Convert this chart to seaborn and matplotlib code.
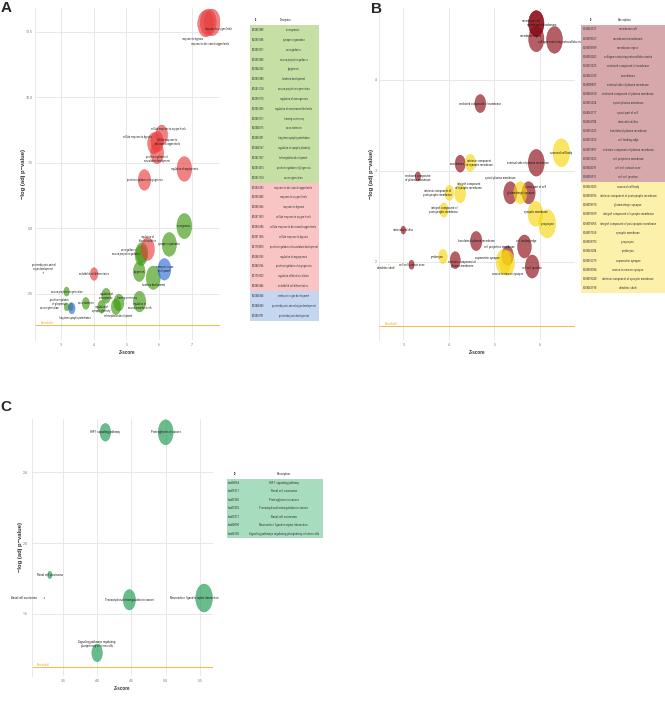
import os
import matplotlib
matplotlib.use("Agg")
import matplotlib.pyplot as plt
from matplotlib import font_manager
from matplotlib.font_manager import FontProperties
from matplotlib.path import Path
from matplotlib.transforms import Affine2D
import pandas as pd
import seaborn as sns

# ---------------- panel A : GO biological process ----------------
a_ids = ["GO:0007409", "GO:0050808", "GO:0007411", "GO:0097485", "GO:0042063", "GO:0030900",
         "GO:0031102", "GO:0050770", "GO:0001505", "GO:0007611", "GO:0048675", "GO:0060291",
         "GO:0048167", "GO:0021537", "GO:0014015", "GO:0031103", "GO:0036293", "GO:0070482",
         "GO:0001666", "GO:0071453", "GO:0036294", "GO:0071456", "GO:1904018", "GO:0045765",
         "GO:0045766", "GO:1903522", "GO:0045446", "GO:0048568", "GO:0048569", "GO:0009791"]
a_terms = ["axonogenesis", "synapse organization", "axon guidance", "neuron projection guidance",
           "gliogenesis", "forebrain development", "neuron projection regeneration",
           "regulation of axonogenesis", "regulation of neurotransmitter levels", "learning or memory",
           "axon extension", "long-term synaptic potentiation", "regulation of synaptic plasticity",
           "telencephalon development", "positive regulation of gliogenesis", "axon regeneration",
           "response to decreased oxygen levels", "response to oxygen levels", "response to hypoxia",
           "cellular response to oxygen levels", "cellular response to decreased oxygen levels",
           "cellular response to hypoxia", "positive regulation of vasculature development",
           "regulation of angiogenesis", "positive regulation of angiogenesis",
           "regulation of blood circulation", "endothelial cell differentiation",
           "embryonic organ development", "post-embryonic animal organ development",
           "post-embryonic development"]
a_groups = ["neuro"] * 16 + ["hypoxia"] * 11 + ["organ"] * 3
a_zscore = [6.77, 6.31, 5.47, 5.45, 5.39, 5.82, 3.17, 4.38, 5.40, 4.77, 3.76, 3.30, 4.24, 4.68, 3.17,
            2.87, 7.50, 7.62, 7.42, 6.08, 5.94, 5.84, 5.94, 6.77, 5.55, 5.65, 4.01, 6.16, 2.46, 3.33]
a_logp = [5.08, 4.38, 4.06, 3.96, 3.34, 3.11, 2.58, 2.42, 2.20, 2.16, 2.13, 2.00, 2.00, 2.00, 2.00,
          1.95, 12.85, 12.85, 12.80, 8.56, 8.30, 8.24, 7.87, 7.26, 6.84, 4.20, 3.25, 3.43, 3.30, 1.94]
a_count = [32, 29, 21, 21, 20, 28, 5, 12, 22, 15, 8, 4, 9, 13, 4, 1, 36, 36, 35, 20, 22, 23, 24, 31,
           22, 26, 9, 24, 1, 7]
a_xticks = [3, 4, 5, 6, 7]
a_xticklabels = ["3", "4", "5", "6", "7"]
a_yticks = [2.5, 5.0, 7.5, 10.0, 12.5]
a_yticklabels = ["2.5", "5.0", "7.5", "10.0", "12.5"]

# ---------------- panel B : GO cellular component ----------------
b_ids = ["GO:0045121", "GO:0098857", "GO:0098589", "GO:0062023", "GO:0031225", "GO:0042383",
         "GO:0009897", "GO:0046658", "GO:0016324", "GO:0045177", "GO:0014704", "GO:0016323",
         "GO:0031252", "GO:0019897", "GO:0031253", "GO:0044291", "GO:0005911", "GO:0043025",
         "GO:0098936", "GO:0098978", "GO:0099699", "GO:0099055", "GO:0097060", "GO:0098793",
         "GO:0043204", "GO:0032279", "GO:0098984", "GO:0099240", "GO:0043198"]
b_terms = ["membrane raft", "membrane microdomain", "membrane region",
           "collagen-containing extracellular matrix", "anchored component of membrane", "sarcolemma",
           "external side of plasma membrane", "anchored component of plasma membrane",
           "apical plasma membrane", "apical part of cell", "intercalated disc",
           "basolateral plasma membrane", "cell leading edge", "extrinsic component of plasma membrane",
           "cell projection membrane", "cell-cell contact zone", "cell-cell junction",
           "neuronal cell body", "intrinsic component of postsynaptic membrane", "glutamatergic synapse",
           "integral component of synaptic membrane", "integral component of postsynaptic membrane",
           "synaptic membrane", "presynapse", "perikaryon", "asymmetric synapse",
           "neuron to neuron synapse", "intrinsic component of synaptic membrane", "dendritic shaft"]
b_groups = ["membrane"] * 17 + ["synapse"] * 12
b_zscore = [5.92, 5.92, 5.92, 6.32, 4.69, 4.25, 5.92, 3.32, 5.35, 5.75, 3.00, 4.60, 5.66, 4.14, 5.29,
            3.18, 5.83, 6.47, 4.01, 5.57, 4.25, 3.89, 5.90, 6.16, 3.87, 5.20, 5.28, 4.47, 2.68]
b_logp = [4.62, 4.62, 4.45, 4.44, 3.74, 3.08, 3.09, 2.94, 2.76, 2.76, 2.35, 2.23, 2.17, 2.02, 2.07,
          1.97, 1.95, 3.20, 2.76, 2.76, 2.75, 2.57, 2.53, 2.42, 2.06, 2.00, 1.99, 3.09, 1.97]
b_count = [33, 33, 33, 36, 17, 15, 36, 5, 25, 25, 4, 19, 27, 15, 19, 5, 27, 39, 12, 25, 17, 11, 31,
           40, 11, 31, 31, 15, 1]
b_xticks = [3, 4, 5, 6]
b_xticklabels = ["3", "4", "5", "6"]
b_yticks = [2, 3, 4]
b_yticklabels = ["2", "3", "4"]

# ---------------- panel C : KEGG ----------------
c_ids = ["hsa04066", "hsa05211", "hsa05205", "hsa05202", "hsa05217", "hsa04080", "hsa04550"]
c_terms = ["HIF-1 signaling pathway", "Renal cell carcinoma", "Proteoglycans in cancer",
           "Transcriptional misregulation in cancer", "Basal cell carcinoma",
           "Neuroactive ligand-receptor interaction",
           "Signaling pathways regulating pluripotency of stem cells"]
c_groups = ["kegg"] * 7
c_zscore = [4.12, 3.31, 5.00, 4.47, 3.23, 5.56, 4.00]
c_logp = [2.625, 1.82, 2.625, 1.68, 1.69, 1.69, 1.38]
c_count = [7, 2, 13, 9, 1, 16, 7]
c_xticks = [3.5, 4.0, 4.5, 5.0, 5.5]
c_xticklabels = ["3.5", "4.0", "4.5", "5.0", "5.5"]
c_yticks = [1.6, 2.0, 2.4]
c_yticklabels = ["1.6", "2.0", "2.4"]

threshold = 1.3

# colours
a_palette = {"neuro": "#3f9a10", "hypoxia": "#e83f3f", "organ": "#306ed9"}
a_table_colors = {"neuro": "#c5dfa5", "hypoxia": "#f8c4c4", "organ": "#c4d6f0"}
b_palette = {"membrane": "#8c0a12", "synapse": "#f7d611"}
b_table_colors = {"membrane": "#d6a8ac", "synapse": "#fdf0aa"}
c_palette = {"kegg": "#1a9850"}
c_table_colors = {"kegg": "#a8dcbe"}

# label tweaks (wrapped text and offsets in pixels, +dy = down)
a_wrap = {"cellular response to decreased oxygen levels": "cellular response to\ndecreased oxygen levels",
          "positive regulation of vasculature development": "positive regulation of\nvasculature development",
          "regulation of blood circulation": "regulation of\nblood circulation",
          "embryonic organ development": "embryonic organ\ndevelopment",
          "post-embryonic animal organ development": "post-embryonic animal\norgan development",
          "positive regulation of gliogenesis": "positive regulation\nof gliogenesis",
          "regulation of synaptic plasticity": "regulation of\nsynaptic plasticity",
          "regulation of axonogenesis": "regulation of\naxonogenesis",
          "regulation of neurotransmitter levels": "regulation of\nneurotransmitter levels"}
a_offset = {"response to decreased oxygen levels": (2, 22), "response to oxygen levels": (6, 7),
            "response to hypoxia": (-13, 15), "cellular response to oxygen levels": (7, -6),
            "cellular response to hypoxia": (-17, -6),
            "cellular response to decreased oxygen levels": (10, 0),
            "positive regulation of vasculature development": (0, 6),
            "regulation of blood circulation": (0, -10), "axon guidance": (-13, -3),
            "neuron projection guidance": (-15, -1), "forebrain development": (0, 7),
            "post-embryonic animal organ development": (0, -6),
            "positive regulation of gliogenesis": (-7, -5), "axon regeneration": (-8, 0),
            "long-term synaptic potentiation": (4, 11), "regulation of synaptic plasticity": (0, 2),
            "learning or memory": (8, -5), "telencephalon development": (2, 9),
            "regulation of neurotransmitter levels": (0, 4)}
a_hidden = {"post-embryonic development"}

b_wrap = {"intrinsic component of synaptic membrane": "intrinsic component\nof synaptic membrane",
          "anchored component of plasma membrane": "anchored component\nof plasma membrane",
          "intrinsic component of postsynaptic membrane": "intrinsic component of\npostsynaptic membrane",
          "integral component of synaptic membrane": "integral component\nof synaptic membrane",
          "integral component of postsynaptic membrane": "integral component of\npostsynaptic membrane",
          "extrinsic component of plasma membrane": "extrinsic component of\nplasma membrane"}
b_offset = {"membrane raft": (-5, -2.5), "membrane microdomain": (5, 2),
            "membrane region": (-6, -2.5), "collagen-containing extracellular matrix": (8, 2.5),
            "external side of plasma membrane": (-8, 0), "sarcolemma": (-3, 0),
            "intrinsic component of synaptic membrane": (9, 0),
            "anchored component of plasma membrane": (0, 2),
            "intrinsic component of postsynaptic membrane": (-12, 0),
            "integral component of synaptic membrane": (8, -8), "apical plasma membrane": (-10, -15),
            "apical part of cell": (7, -6), "synaptic membrane": (0, -2),
            "cell leading edge": (2, -6), "cell projection membrane": (-8, -9),
            "asymmetric synapse": (-16, -4), "neuron to neuron synapse": (0, 11),
            "cell-cell junction": (0, 1), "extrinsic component of plasma membrane": (7, 4),
            "perikaryon": (-6, 0), "dendritic shaft": (-3, 3)}

c_wrap = {"Signaling pathways regulating pluripotency of stem cells":
          "Signaling pathways regulating\npluripotency of stem cells"}
c_offset = {"Basal cell carcinoma": (-20, 0), "Neuroactive ligand-receptor interaction": (-10, 0),
            "Signaling pathways regulating pluripotency of stem cells": (0, -9)}

sns.set_theme(style="white")
plt.rcParams["font.family"] = ["Liberation Sans", "DejaVu Sans"]

# the small texts in the original are squeezed sideways, use a narrow face if there is one
narrow_file, narrow_scale = None, 0.82
for want, scale in [("LiberationSansNarrow-Regular", 1.0), ("RobotoCondensed-Regular", 0.95),
                    ("DejaVuSansCondensed.", 0.85), ("NotoSans-Condensed.", 0.9)]:
    for f in font_manager.fontManager.ttflist:
        if os.path.basename(f.fname).startswith(want):
            narrow_file, narrow_scale = f.fname, scale
            break
    if narrow_file:
        break


def fp(size):
    if narrow_file:
        return FontProperties(fname=narrow_file, size=size * narrow_scale)
    return FontProperties(family="Liberation Sans", size=size * narrow_scale)


W, H = 665, 703
fig = plt.figure(figsize=(W / 100, H / 100), dpi=100)


def px_axes(left, top, right, bottom):
    return fig.add_axes([left / W, 1 - bottom / H, (right - left) / W, (bottom - top) / H])


ELLIPSE = Path.unit_circle().transformed(Affine2D().scale(0.6, 1.0))


def bubble_panel(ax, df, palette, smax, cmax, xlim, ylim, xt, xtl, yt, ytl, ylab_x, xlab_y, ypad):
    sns.scatterplot(data=df, x="zscore", y="logp", hue="group", size="count", palette=palette,
                    sizes=(1, smax), size_norm=(1, cmax), marker=ELLIPSE, alpha=0.65,
                    edgecolor="face", linewidth=0.3, legend=False, ax=ax, zorder=3)
    ax.set_xlim(*xlim)
    ax.set_ylim(*ylim)
    ax.set_xticks(xt)
    ax.set_xticklabels(xtl)
    ax.set_yticks(yt)
    ax.set_yticklabels(ytl)
    ax.grid(True, color="#e4e4e4", lw=0.6)
    ax.set_axisbelow(True)
    for s in ["top", "right", "bottom"]:
        ax.spines[s].set_visible(False)
    ax.spines["left"].set_color("#e4e4e4")
    ax.spines["left"].set_linewidth(0.6)
    ax.tick_params(axis="x", length=0, pad=2.5, colors="#777777")
    ax.tick_params(axis="y", length=0, pad=ypad, colors="#777777")
    for lab in ax.get_xticklabels() + ax.get_yticklabels():
        lab.set_fontproperties(fp(3.0))
    ax.set_xlabel("Z-score", fontsize=3.3, fontweight="bold", color="#333333")
    ax.set_ylabel("\u2212log (adj p\u2212value)", fontsize=4.2, fontweight="bold", color="#333333")
    ax.xaxis.set_label_coords(0.5, xlab_y)
    ax.yaxis.set_label_coords(ylab_x, 0.5)
    ax.axhline(threshold, color="#f7b844", lw=0.7, zorder=2)
    ax.text(0.03, threshold, "Threshold", transform=ax.get_yaxis_transform(), ha="left",
            va="bottom", fontproperties=fp(2.4), color="#f0a030")


def label_points(ax, df, wraps, offsets, fs, hidden=()):
    for term, x, y in zip(df["term"], df["zscore"], df["logp"]):
        if term in hidden:
            continue
        dx, dy = offsets.get(term, (0, 0))
        ax.annotate(wraps.get(term, term), (x, y), xytext=(dx * 0.72, -dy * 0.72),
                    textcoords="offset points", ha="center", va="center", fontproperties=fp(fs),
                    color="#1a1a1a", zorder=5, linespacing=1.0)


def draw_table(box, ids, terms, groups, colors, fs, id_x, head_id_x, desc_x, head_desc_x):
    tax = px_axes(*box)
    n = len(ids)
    tax.set_xlim(0, 1)
    tax.set_ylim(n - 0.5, -1.5)
    tax.axis("off")
    tax.barh(list(range(n)), [1] * n, height=1.0, color=[colors[g] for g in groups], linewidth=0)
    tax.text(head_id_x, -1, "ID", ha="center", va="center", fontproperties=fp(fs), color="#222222")
    tax.text(head_desc_x, -1, "Description", ha="center", va="center", fontproperties=fp(fs),
             color="#222222")
    for i, (gid, term) in enumerate(zip(ids, terms)):
        tax.text(id_x, i, gid, ha="left", va="center", fontproperties=fp(fs), color="#333333")
        tax.text(desc_x, i, term, ha="center", va="center", fontproperties=fp(fs), color="#333333")


df_a = pd.DataFrame({"id": a_ids, "term": a_terms, "group": a_groups,
                     "zscore": a_zscore, "logp": a_logp, "count": a_count})
df_b = pd.DataFrame({"id": b_ids, "term": b_terms, "group": b_groups,
                     "zscore": b_zscore, "logp": b_logp, "count": b_count})
df_c = pd.DataFrame({"id": c_ids, "term": c_terms, "group": c_groups,
                     "zscore": c_zscore, "logp": c_logp, "count": c_count})

# panel A
ax_a = px_axes(35, 8, 220, 340)
bubble_panel(ax_a, df_a, a_palette, 370, 36, (2.205, 7.86), (0.733, 13.40),
             a_xticks, a_xticklabels, a_yticks, a_yticklabels, -0.051, -0.030, 1.4)
label_points(ax_a, df_a, a_wrap, a_offset, 2.0, a_hidden)
draw_table((250, 15.2, 319, 320.6), a_ids, a_terms, a_groups, a_table_colors, 2.0,
           0.025, 0.087, 0.63, 0.52)

# panel B
ax_b = px_axes(379, 8, 575, 340)
bubble_panel(ax_b, df_b, b_palette, 415, 40, (2.466, 6.77), (1.143, 4.79),
             b_xticks, b_xticklabels, b_yticks, b_yticklabels, -0.023, -0.030, 1.4)
label_points(ax_b, df_b, b_wrap, b_offset, 2.3)
draw_table((581, 15.6, 665, 293.1), b_ids, b_terms, b_groups, b_table_colors, 2.3,
           0.02, 0.12, 0.56, 0.52)

# panel C
ax_c = px_axes(32, 419, 213, 676)
bubble_panel(ax_c, df_c, c_palette, 406, 16, (3.05, 5.69), (1.25, 2.70),
             c_xticks, c_xticklabels, c_yticks, c_yticklabels, -0.047, -0.039, 2.9)
label_points(ax_c, df_c, c_wrap, c_offset, 2.4)
draw_table((227, 470, 323, 538), c_ids, c_terms, c_groups, c_table_colors, 2.4,
           0.01, 0.086, 0.59, 0.59)

for letter, x, y in [("A", 6, 8), ("B", 377, 9), ("C", 6, 407)]:
    fig.text(x / W, 1 - y / H, letter, fontsize=11, fontweight="bold", ha="center", va="center")

fig.savefig("out.png", dpi=100, facecolor="white")
